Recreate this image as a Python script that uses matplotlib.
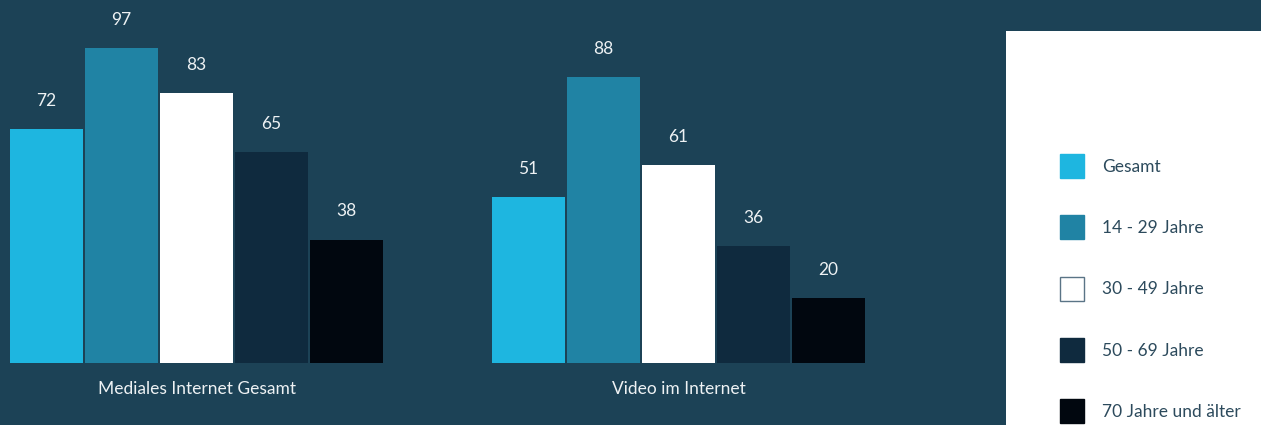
import numpy as np
import matplotlib
matplotlib.use('Agg')
import matplotlib.pyplot as plt
from matplotlib.patches import Patch, Rectangle

plt.rcParams['font.family'] = ['Lato', 'DejaVu Sans']

# data
categories = ['Mediales Internet Gesamt', 'Video im Internet']
series = ['Gesamt', '14 - 29 Jahre', '30 - 49 Jahre', '50 - 69 Jahre', '70 Jahre und älter']
gesamt = [72, 51]
jahre_14_29 = [97, 88]
jahre_30_49 = [83, 61]
jahre_50_69 = [65, 36]
jahre_70 = [38, 20]
values = [gesamt, jahre_14_29, jahre_30_49, jahre_50_69, jahre_70]

colors = ['#1eb6e0', '#2083a4', '#ffffff', '#0f2a3e', '#01070f']
bg = '#1c4256'

W, H = 1261, 425
fig = plt.figure(figsize=(W / 100, H / 100), dpi=100)
fig.patch.set_facecolor(bg)

# plot area: left part of the figure
ax = fig.add_axes([0, 0, 1006 / W, 1])
ax.set_facecolor(bg)

px_group = 482.0          # distance between group centers in pixels
step = 75.0 / px_group
width = 73.0 / px_group
x = np.arange(len(categories))

for i, (vals, col) in enumerate(zip(values, colors)):
    pos = x + (i - 2) * step
    bars = ax.bar(pos, vals, width=width, color=col, linewidth=0)
    for b, v in zip(bars, vals):
        ax.annotate(str(v), (b.get_x() + b.get_width() / 2, v),
                    xytext=(0, 28), textcoords='offset pixels',
                    ha='center', va='center', color='#eef2f4', fontsize=12.5)

for xi, cat in zip(x, categories):
    ax.annotate(cat, (xi, 0), xytext=(0, -26), textcoords='offset pixels',
                ha='center', va='center', color='#eef2f4', fontsize=12.5)

scale = 3.25  # px per unit
ax.set_ylim(-62 / scale, (H - 62) / scale)
ax.set_xlim(-196.5 / px_group, (1006 - 196.5) / px_group)
ax.axis('off')

# legend panel
fig.patches.append(Rectangle((1006 / W, 0), 1 - 1006 / W, (H - 31) / H,
                             transform=fig.transFigure, facecolor='white',
                             edgecolor='none', zorder=0))

handles = [Patch(facecolor=c, edgecolor=('#5a7486' if c == '#ffffff' else c),
                 linewidth=1) for c in colors]
fig.legend(handles, series, loc='upper left',
           bbox_to_anchor=(1060 / W, 1 - 154 / H), frameon=False,
           fontsize=12.5, labelcolor='#2c4a5c', handlelength=1.38,
           handleheight=1.75, handletextpad=1.04, labelspacing=2.15,
           borderpad=0, borderaxespad=0)

fig.savefig('out.png', dpi=100, facecolor=bg)
